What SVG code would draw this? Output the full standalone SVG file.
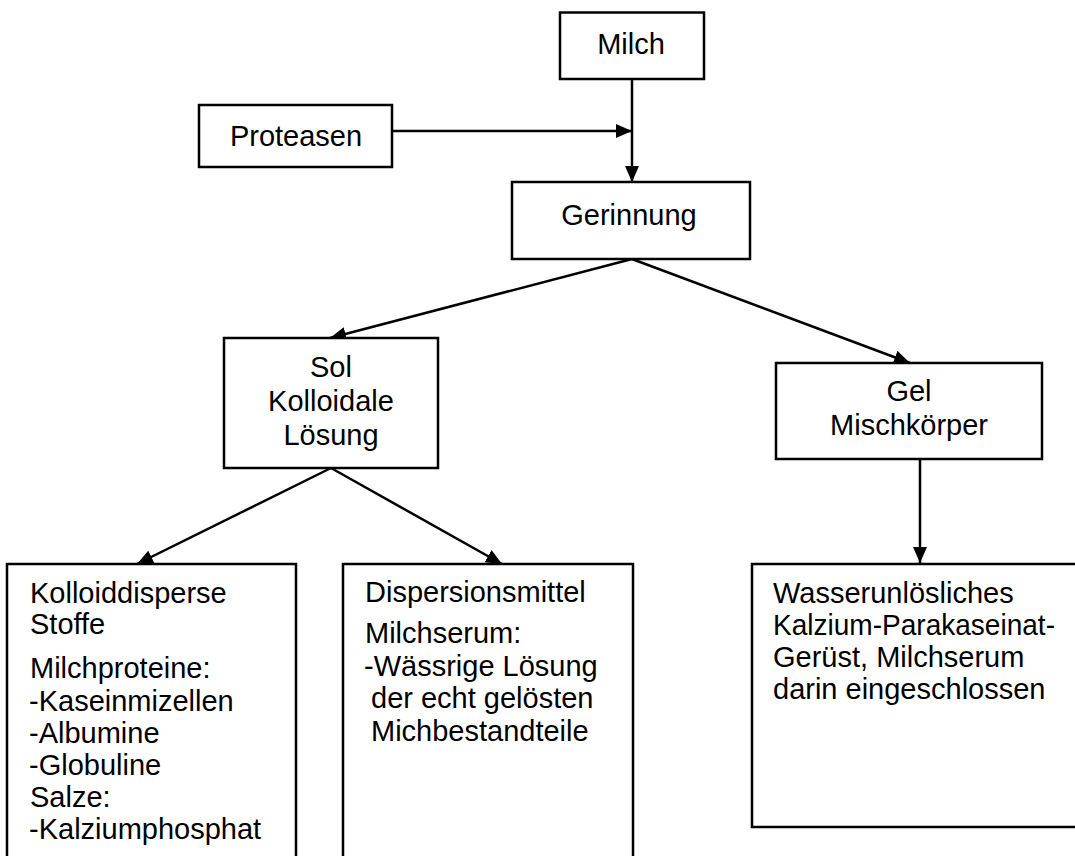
<svg xmlns="http://www.w3.org/2000/svg" width="1075" height="856" viewBox="0 0 1075 856">
<style>
.box{fill:#fff;stroke:#000;stroke-width:2.5}
.t{font-family:"Liberation Sans",Arial,sans-serif;font-size:29px;fill:#000}
.c{text-anchor:middle}
.ln{stroke:#000;stroke-width:2.5;fill:none;marker-end:url(#ah)}
</style>
<defs>
<marker id="ah" markerUnits="userSpaceOnUse" markerWidth="17" markerHeight="15" refX="16" refY="7" orient="auto">
<path d="M0,0 L16,7 L0,14 z" fill="#000"/>
</marker>
</defs>
<rect width="1075" height="856" fill="#fff"/>
<g id="connectors">
<line class="ln" x1="392" y1="131" x2="632" y2="131"/>
<line class="ln" x1="632" y1="79" x2="632" y2="182"/>
<line class="ln" x1="632" y1="259" x2="330" y2="338"/>
<line class="ln" x1="632" y1="259" x2="910" y2="363"/>
<line class="ln" x1="331" y1="468" x2="137" y2="564"/>
<line class="ln" x1="331" y1="468" x2="502" y2="564"/>
<line class="ln" x1="920" y1="459" x2="920" y2="563"/>
</g>
<g id="milch">
<rect class="box" x="560" y="12.5" width="144" height="66.5"/>
<text class="t c" x="631" y="54">Milch</text>
</g>
<g id="proteasen">
<rect class="box" x="199" y="105" width="193" height="62"/>
<text class="t c" x="296" y="146">Proteasen</text>
</g>
<g id="gerinnung">
<rect class="box" x="512" y="182" width="238" height="77"/>
<text class="t c" x="629" y="225">Gerinnung</text>
</g>
<g id="sol">
<rect class="box" x="224" y="338" width="214" height="130"/>
<text class="t c" x="331" y="377">Sol</text>
<text class="t c" x="331" y="411">Kolloidale</text>
<text class="t c" x="331" y="445">Lösung</text>
</g>
<g id="gel">
<rect class="box" x="776" y="363" width="266" height="96"/>
<text class="t c" x="909" y="401">Gel</text>
<text class="t c" x="909" y="435">Mischkörper</text>
</g>
<g id="kolloiddisperse">
<rect class="box" x="7" y="564" width="289" height="310"/>
<text class="t" x="30" y="603">Kolloiddisperse</text>
<text class="t" x="30" y="634">Stoffe</text>
<text class="t" x="30" y="678">Milchproteine:</text>
<text class="t" x="29" y="711">-Kaseinmizellen</text>
<text class="t" x="29" y="743">-Albumine</text>
<text class="t" x="29" y="775">-Globuline</text>
<text class="t" x="30" y="807">Salze:</text>
<text class="t" x="29" y="839">-Kalziumphosphat</text>
</g>
<g id="dispersionsmittel">
<rect class="box" x="343" y="564" width="290" height="310"/>
<text class="t" x="365" y="602">Dispersionsmittel</text>
<text class="t" x="365" y="643">Milchserum:</text>
<text class="t" x="364" y="676">-Wässrige Lösung</text>
<text class="t" x="371" y="708">der echt gelösten</text>
<text class="t" x="371" y="741">Michbestandteile</text>
</g>
<g id="geruest">
<rect class="box" x="752" y="564" width="340" height="263"/>
<text class="t" x="773" y="603">Wasserunlösliches</text>
<text class="t" x="773" y="635" textLength="282" lengthAdjust="spacingAndGlyphs">Kalzium-Parakaseinat-</text>
<text class="t" x="773" y="667">Gerüst, Milchserum</text>
<text class="t" x="773" y="699">darin eingeschlossen</text>
</g>
</svg>
